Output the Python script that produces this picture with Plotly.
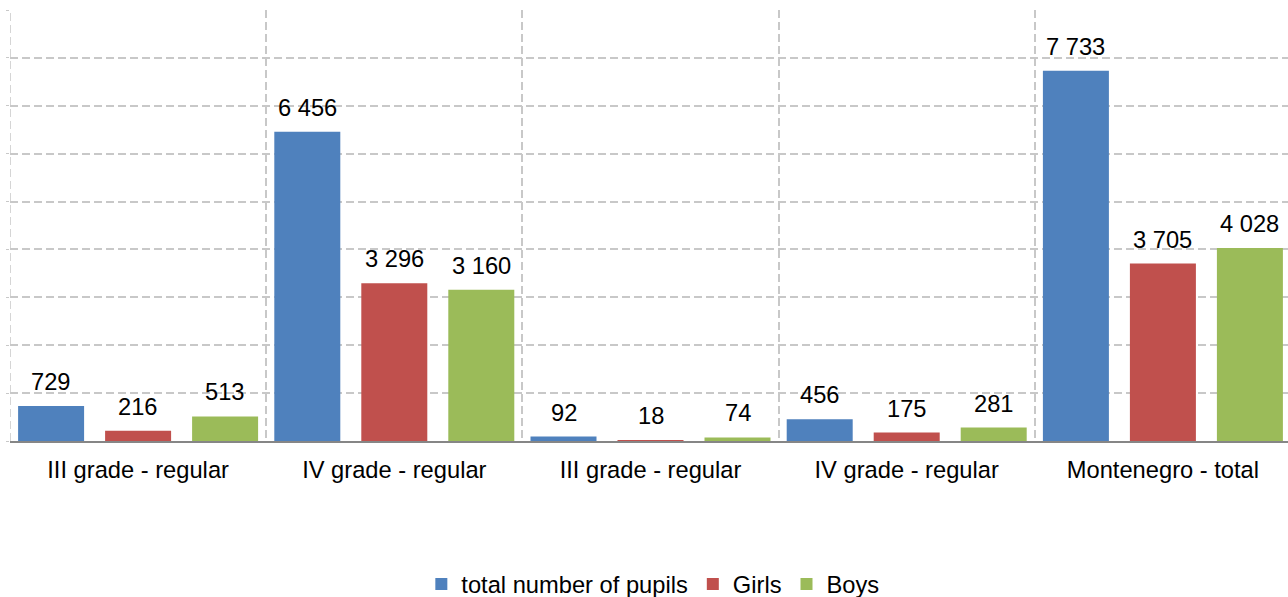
import plotly.graph_objects as go

categories = ["III grade - regular", "IV grade - regular", "III grade - regular",
              "IV grade - regular", "Montenegro - total"]
series_names = ["total number of pupils", "Girls", "Boys"]
total_pupils = [729, 6456, 92, 456, 7733]
girls = [216, 3296, 18, 175, 3705]
boys = [513, 3160, 74, 281, 4028]
colors = ["#4F81BD", "#C0504D", "#9BBB59"]

FONT = "Liberation Sans, Arial, sans-serif"
FS = 23.7

cat_w = 256.2
bar_w = 66 / cat_w
step = 87 / cat_w
offsets = [-step, 0.0, step]

xs = list(range(len(categories)))
fig = go.Figure()
for name, vals, col, off in zip(series_names, [total_pupils, girls, boys], colors, offsets):
    fig.add_trace(go.Bar(
        x=xs, y=vals, name=name, width=bar_w, offset=off - bar_w / 2,
        marker=dict(color=col, line=dict(width=0)),
    ))
    for i, v in enumerate(vals):
        fig.add_annotation(
            x=i + off, y=v, text=f"{v:,}".replace(",", " "),
            showarrow=False, yanchor="bottom", yshift=9,
            font=dict(family=FONT, size=FS, color="#000000"),
        )

# left border of the plot area (dashed, like the category separators)
fig.add_shape(type="line", xref="x", yref="paper", x0=-0.5, x1=-0.5, y0=0, y1=1,
              line=dict(color="#C8C8C8", width=1.5, dash="8px,4px"), layer="below")

plot_w = 1288 - 10
fig.update_layout(
    width=1288, height=597,
    margin=dict(l=10, r=0, t=10, b=156, autoexpand=False),
    paper_bgcolor="white", plot_bgcolor="white",
    barmode="overlay",
    font=dict(family=FONT, size=FS, color="#000000"),
    showlegend=True,
    legend=dict(orientation="h", x=0.503, xanchor="center", y=-0.332, yanchor="middle",
                font=dict(family=FONT, size=FS, color="#000000"),
                itemwidth=30, traceorder="normal"),
    xaxis=dict(
        range=[-0.5, -0.5 + plot_w / cat_w],
        tickmode="array", tickvals=xs, ticktext=categories,
        showgrid=False, zeroline=False,
        showline=True, linecolor="#868686", linewidth=2,
        ticks="", ticklabelstandoff=7,
        tickfont=dict(family=FONT, size=FS, color="#000000"),
        minor=dict(tickmode="array", tickvals=[i - 0.5 for i in range(len(categories) + 1)],
                   showgrid=True, gridcolor="#C8C8C8", gridwidth=1.5, griddash="8px,4px",
                   ticks=""),
    ),
    yaxis=dict(
        range=[0, 9000], dtick=1000, tick0=0,
        showgrid=True, gridcolor="#C8C8C8", gridwidth=1.5, griddash="8px,4px",
        zeroline=False, showticklabels=False,
        ticks="outside", ticklen=3, tickcolor="#C8C8C8",
    ),
)

fig.write_html("out.html",
               config={"displayModeBar": False},
               post_script="document.body.style.margin='0';document.body.style.overflow='hidden';")
